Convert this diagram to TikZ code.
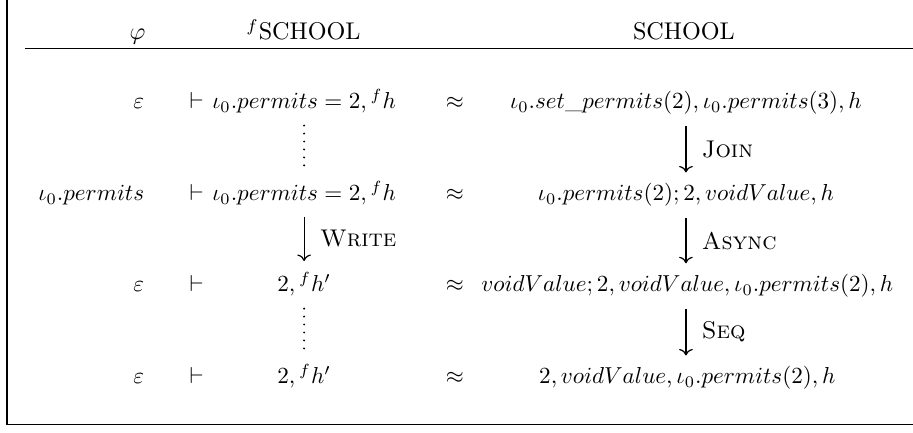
\documentclass[tikz,border=0pt]{standalone}
\usepackage{amssymb}
\usetikzlibrary{positioning, calc, arrows.meta}

\begin{document}
\begin{tikzpicture}[
    head/.style={anchor=base, inner sep=2pt},
    cell/.style={anchor=base, inner sep=2pt, scale=0.955},
    ctx/.style={cell, anchor=base east},
    reduce/.style={-{Computer Modern Rightarrow}, line width=0.5pt, shorten <=2.5pt, shorten >=2.5pt},
    rulename/.style={midway, right=3pt},
    vdotline/.style={line width=0.9pt, line cap=round, dash pattern=on 0pt off 3.3pt, shorten <=3pt, shorten >=1.5pt},
]
    \useasboundingbox (0,0) rectangle (13.27,-6.28);

    % frame and header rule
    \draw[line width=0.6pt] (0.10,0) -- (0.10,-6.17) -- (13.27,-6.17);
    \draw[line width=0.5pt] (0.36,-0.71) -- (13.27,-0.71);

    % header
    \node[head, anchor=base east] (hphi) at (2.19,-0.58) {$\varphi$};
    \node[head] (hfs) at (4.41,-0.58) {$^{f}$SCHOOL};
    \node[head] (hs)  at (9.94,-0.58) {SCHOOL};

    % row 1
    \node[ctx]  (c1) at (2.17,-1.58) {$\varepsilon$};
    \node[cell] (t1) at (2.86,-1.58) {$\vdash$};
    \node[cell] (f1) at (4.42,-1.58) {$\iota_0.permits = 2, {}^{f}h$};
    \node[cell] (a1) at (6.61,-1.58) {$\approx$};
    \node[cell] (s1) at (9.97,-1.58) {$\iota_0.set\_permits(2), \iota_0.permits(3), h$};

    % row 2
    \node[ctx]  (c2) at (2.17,-2.92) {$\iota_0.permits$};
    \node[cell] (t2) at (2.86,-2.92) {$\vdash$};
    \node[cell] (f2) at (4.42,-2.92) {$\iota_0.permits = 2, {}^{f}h$};
    \node[cell] (a2) at (6.61,-2.92) {$\approx$};
    \node[cell] (s2) at (9.97,-2.92) {$\iota_0.permits(2); 2, voidValue, h$};

    % row 3
    \node[ctx]  (c3) at (2.17,-4.24) {$\varepsilon$};
    \node[cell] (t3) at (2.86,-4.24) {$\vdash$};
    \node[cell] (f3) at (4.42,-4.24) {$2, {}^{f}h'$};
    \node[cell] (a3) at (6.61,-4.24) {$\approx$};
    \node[cell] (s3) at (9.99,-4.24) {$voidValue; 2, voidValue, \iota_0.permits(2), h$};

    % row 4
    \node[ctx]  (c4) at (2.17,-5.58) {$\varepsilon$};
    \node[cell] (t4) at (2.86,-5.58) {$\vdash$};
    \node[cell] (f4) at (4.42,-5.58) {$2, {}^{f}h'$};
    \node[cell] (a4) at (6.61,-5.58) {$\approx$};
    \node[cell] (s4) at (9.99,-5.58) {$2, voidValue, \iota_0.permits(2), h$};

    % steps
    \draw[vdotline] (f1.south) -- (f2.north);
    \draw[reduce] (s1.south) -- (s2.north) node[rulename] {\textsc{Join}};
    \draw[reduce] (f2.south) -- (f3.north) node[rulename] {\textsc{Write}};
    \draw[reduce] (s2.south) -- (s2.south |- s3.north) node[rulename] {\textsc{Async}};
    \draw[vdotline] (f3.south) -- (f4.north);
    \draw[reduce] (s2.south |- s3.south) -- (s2.south |- s4.north) node[rulename] {\textsc{Seq}};
\end{tikzpicture}
\end{document}
